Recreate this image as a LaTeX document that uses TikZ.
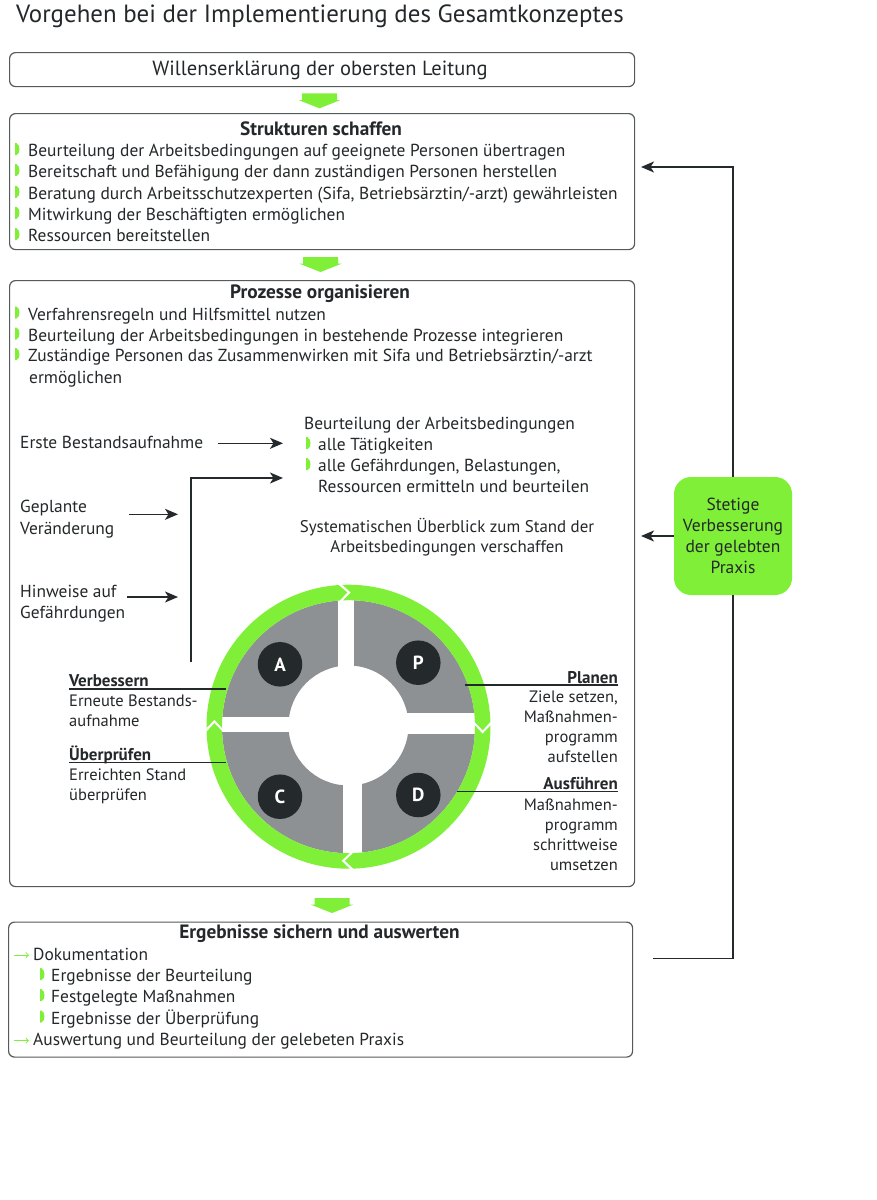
\documentclass[tikz,border=0pt]{standalone}
\usepackage{fontspec}
\setmainfont{PT Sans}
\usetikzlibrary{arrows.meta}
\definecolor{grn}{RGB}{127,240,55}
\definecolor{qgray}{RGB}{142,145,147}
\definecolor{dkc}{RGB}{36,41,43}
\definecolor{txc}{RGB}{36,40,42}
\definecolor{bdc}{RGB}{85,90,92}
\tikzset{
  frame/.style={draw=bdc, line width=1.2pt, rounded corners=6pt, inner sep=0pt, anchor=north west},
  txl/.style={anchor=base west, inner sep=0pt, text=txc, font=\fontsize{17.4}{20}\selectfont},
  txr/.style={txl, anchor=base east},
  txm/.style={txl, anchor=base},
  pl/.style={anchor=base west, inner sep=0pt, text=txc, font=\fontsize{16.5}{20}\selectfont},
  pr/.style={pl, anchor=base east},
  hd/.style={anchor=base, inner sep=0pt, text=txc, font=\bfseries\fontsize{19.3}{22}\selectfont},
  lbl/.style={anchor=base west, inner sep=0pt, text=txc, font=\bfseries\fontsize{17}{20}\selectfont},
  lbr/.style={lbl, anchor=base east},
  conn/.style={draw=dkc, line width=1.6pt},
  arr/.style={conn, -{Stealth[length=13pt,width=11pt,inset=3.5pt]}},
  uline/.style={draw=dkc, line width=1.1pt},
  gb/.pic={\fill[grn] (0,1.5) -- (1.5,1.5) .. controls (5.5,3.5) and (5.5,11.5) .. (1.5,13.5) -- (0,13.5) -- cycle;},
  ga/.pic={\draw[grn, line width=0.8pt, -{Straight Barb[length=2.5pt,width=5pt]}] (0,5) -- (15,5);},
  barrow/.pic={\fill[grn] (-17.5,0) -- (17.5,0) -- (17.5,-6.7) -- (21,-6.7) -- (0,-15) -- (-21,-6.7) -- (-17.5,-6.7) -- cycle;},
  letter/.style={circle, fill=dkc, minimum size=44.5pt, inner sep=0pt, text=white, font=\bfseries\fontsize{19}{20}\selectfont},
}
\begin{document}
\begin{tikzpicture}[x=1pt,y=1pt]
\fill[white] (0,0) rectangle (877,-1200);
\path[use as bounding box] (0,0) rectangle (877,-1200);

% title
\node[anchor=base west, inner sep=0pt, text=txc, font=\fontsize{24.9}{28}\selectfont] (title) at (16,-22) {Vorgehen bei der Implementierung des Gesamtkonzeptes};

% box 1
\node[frame, minimum width=625pt, minimum height=34pt] (b1) at (9,-52) {};
\node[txm, font=\fontsize{20.5}{22}\selectfont] (t1) at (320,-75) {Willenserklärung der obersten Leitung};
\pic at (319.5,-93.3) {barrow};

% box 2
\node[frame, minimum width=625pt, minimum height=136pt] (b2) at (9,-113) {};
\node[hd] (h2) at (321,-135) {Strukturen schaffen};
\pic at (15,-156.7) {gb}; \node[txl] (s1) at (28,-156.7) {Beurteilung der Arbeitsbedingungen auf geeignete Personen übertragen};
\pic at (15,-177.7) {gb}; \node[txl] (s2) at (28,-177.7) {Bereitschaft und Befähigung der dann zuständigen Personen herstellen};
\pic at (15,-199.3) {gb}; \node[txl] (s3) at (28,-199.3) {Beratung durch Arbeitsschutzexperten (Sifa, Betriebsärztin/-arzt) gewährleisten};
\pic at (15,-220.3) {gb}; \node[txl] (s4) at (28,-220.3) {Mitwirkung der Beschäftigten ermöglichen};
\pic at (15,-241.7) {gb}; \node[txl] (s5) at (28,-241.7) {Ressourcen bereitstellen};
\pic at (320.5,-257) {barrow};

% box 3
\node[frame, minimum width=625pt, minimum height=606pt] (b3) at (9,-280) {};
\node[hd] (h3) at (320,-298.3) {Prozesse organisieren};
\pic at (15,-320) {gb}; \node[txl] (p1) at (28,-320) {Verfahrensregeln und Hilfsmittel nutzen};
\pic at (15,-341) {gb}; \node[txl] (p2) at (28,-341) {Beurteilung der Arbeitsbedingungen in bestehende Prozesse integrieren};
\pic at (15,-361.7) {gb}; \node[txl] (p3) at (28,-361.7) {Zuständige Personen das Zusammenwirken mit Sifa und Betriebsärztin/-arzt};
\node[txl] (p4) at (29,-383.3) {ermöglichen};

\node[txl] (ba) at (304,-429) {Beurteilung der Arbeitsbedingungen};
\pic at (306,-450.7) {gb}; \node[txl] (ba1) at (318,-450.7) {alle Tätigkeiten};
\pic at (306,-471.7) {gb}; \node[txl] (ba2) at (318,-471.7) {alle Gefährdungen, Belastungen,};
\node[txl] (ba3) at (318,-492.7) {Ressourcen ermitteln und beurteilen};

\node[txl] (e1) at (20,-448.3) {Erste Bestandsaufnahme};
\node[txl] (g1) at (20,-512.7) {Geplante};
\node[txl] (g2) at (20,-534) {Veränderung};
\node[txl] (w1) at (20,-597.3) {Hinweise auf};
\node[txl] (w2) at (20,-618.3) {Gefährdungen};

\node[txm, font=\fontsize{16.9}{20}\selectfont] (sy1) at (447,-532.7) {Systematischen Überblick zum Stand der};
\node[txm, font=\fontsize{16.9}{20}\selectfont] (sy2) at (447,-552.7) {Arbeitsbedingungen verschaffen};

\coordinate (e1a) at (218,-443.3); \coordinate (e1b) at (283,-443.3);
\draw[arr] (e1a) -- (e1b);
\coordinate (g1a) at (129,-514.3); \coordinate (g1b) at (178,-514.3);
\draw[arr] (g1a) -- (g1b);
\coordinate (w1a) at (127,-597); \coordinate (w1b) at (178,-597);
\draw[arr] (w1a) -- (w1b);
\coordinate (lp0) at (191,-662); \coordinate (lp1) at (283,-478);
\draw[arr] (lp0) |- (lp1);

% PDCA
\begin{scope}[shift={(348.5,-726.7)}]
  \fill[qgray, even odd rule] (0,0) circle[radius=126.5] (0,1.2) circle[radius=60];
  \fill[white] (-10.2,0) rectangle (5.5,131);
  \fill[white] (-5.2,0) rectangle (13.2,-131);
  \fill[white] (0,-5) rectangle (-131,10);
  \fill[white] (0,-7.3) rectangle (131,14);
  \fill[grn] (180.5:142) arc[start angle=180.5,end angle=94,radius=142] -- (90.5:134.25) -- (94:126.5) arc[start angle=94,end angle=180.5,radius=126.5] -- (177:134.25) -- cycle;
  \fill[grn] (92.5:142) arc[start angle=92.5,end angle=2,radius=142] -- (-1.5:134.25) -- (2:126.5) arc[start angle=2,end angle=92.5,radius=126.5] -- (89:134.25) -- cycle;
  \fill[grn] (0.5:142) arc[start angle=0.5,end angle=-88,radius=142] -- (-91.5:134.25) -- (-88:126.5) arc[start angle=-88,end angle=0.5,radius=126.5] -- (-3:134.25) -- cycle;
  \fill[grn] (-89.5:142) arc[start angle=-89.5,end angle=-178,radius=142] -- (-181.5:134.25) -- (-178:126.5) arc[start angle=-178,end angle=-89.5,radius=126.5] -- (-93:134.25) -- cycle;
\end{scope}
\node[letter] (A) at (280,-664.3) {A};
\node[letter] (P) at (418.3,-662.7) {P};
\node[letter] (C) at (280,-796.7) {C};
\node[letter] (D) at (418.3,-795) {D};

\node[lbl] (v0) at (69,-686.7) {Verbessern};
\node[pl] (v1) at (69,-706.7) {Erneute Bestands-};
\node[pl] (v2) at (69,-726.7) {aufnahme};
\coordinate (vu0) at (69,-689); \coordinate (vu1) at (226,-689);
\draw[uline] (vu0) -- (vu1);
\node[lbl] (u0) at (69,-760) {Überprüfen};
\node[pl] (u1) at (69,-780) {Erreichten Stand};
\node[pl] (u2) at (69,-800) {überprüfen};
\coordinate (uu0) at (69,-762.7); \coordinate (uu1) at (226,-762.7);
\draw[uline] (uu0) -- (uu1);
\node[lbr] (pl0) at (618,-683.3) {Planen};
\node[pr] (pl1) at (618,-702.7) {Ziele setzen,};
\node[pr] (pl2) at (618,-722.7) {Maßnahmen-};
\node[pr] (pl3) at (618,-742.7) {programm};
\node[pr] (pl4) at (618,-762.7) {aufstellen};
\coordinate (pu0) at (465,-685); \coordinate (pu1) at (618,-685);
\draw[uline] (pu0) -- (pu1);
\node[lbr] (af0) at (618,-789.3) {Ausführen};
\node[pr] (af1) at (618,-810) {Maßnahmen-};
\node[pr] (af2) at (618,-830) {programm};
\node[pr] (af3) at (618,-850) {schrittweise};
\node[pr] (af4) at (618,-870) {umsetzen};
\coordinate (au0) at (457,-791.7); \coordinate (au1) at (618,-791.7);
\draw[uline] (au0) -- (au1);

\pic at (332,-898) {barrow};

% box 4
\node[frame, minimum width=624pt, minimum height=135pt] (b4) at (8,-921.5) {};
\node[hd] (h4) at (319.5,-938.3) {Ergebnisse sichern und auswerten};
\pic at (14,-960) {ga}; \node[txl] (r1) at (33,-960) {Dokumentation};
\pic at (40,-981.7) {gb}; \node[txl] (r2) at (51,-981.7) {Ergebnisse der Beurteilung};
\pic at (40,-1002.7) {gb}; \node[txl] (r3) at (51,-1002.7) {Festgelegte Maßnahmen};
\pic at (40,-1024) {gb}; \node[txl] (r4) at (51,-1024) {Ergebnisse der Überprüfung};
\pic at (14,-1045.7) {ga}; \node[txl] (r5) at (33,-1045.7) {Auswertung und Beurteilung der gelebeten Praxis};

% feedback
\node[fill=grn, rounded corners=17pt, minimum width=118pt, minimum height=118pt, inner sep=0pt, align=center, text=txc, font=\fontsize{17.5}{21}\selectfont] (gbox) at (733,-536) {Stetige\\Verbesserung\\der gelebten\\Praxis};
\coordinate (fb0) at (653,-958.5);
\coordinate (fbtop) at (641,-167);
\draw[conn] (fb0) -| (gbox.south);
\draw[arr] (gbox.north) |- (fbtop);
\draw[arr] (gbox.west) -- (gbox.west -| fbtop);
\end{tikzpicture}
\end{document}
